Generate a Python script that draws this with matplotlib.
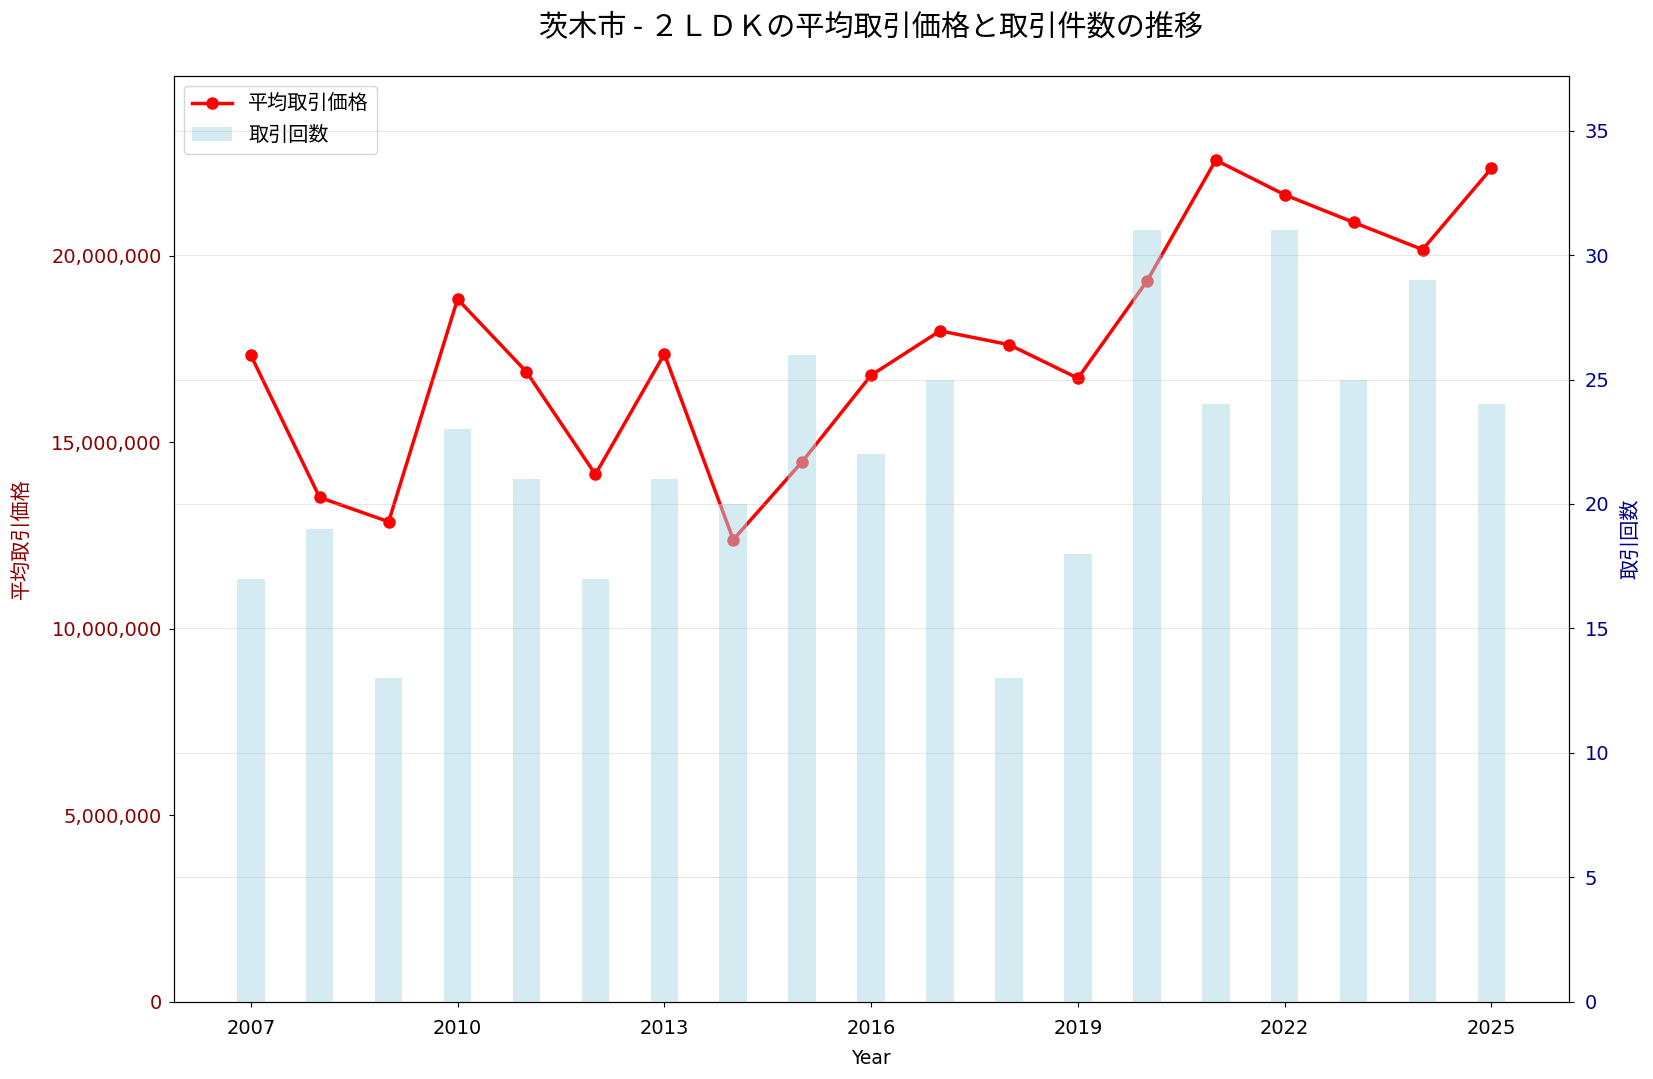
import matplotlib
matplotlib.use("Agg")
import matplotlib.pyplot as plt
from matplotlib.ticker import FuncFormatter

plt.rcParams['font.family'] = ['DejaVu Sans', 'Noto Sans CJK JP']

years = [2007, 2008, 2009, 2010, 2011, 2012, 2013, 2014, 2015, 2016,
         2017, 2018, 2019, 2020, 2021, 2022, 2023, 2024, 2025]
avg_price = [17340000, 13520000, 12870000, 18840000, 16890000, 14140000, 17370000,
             12390000, 14480000, 16800000, 17990000, 17620000, 16720000, 19320000,
             22570000, 21640000, 20900000, 20170000, 22350000]
counts = [17, 19, 13, 23, 21, 17, 21, 20, 26, 22, 25, 13, 18, 31, 24, 31, 25, 29, 24]

fig, ax1 = plt.subplots(figsize=(16.53, 10.79), dpi=100)
fig.subplots_adjust(left=0.105, right=0.949, top=0.9296, bottom=0.0718)

l1, = ax1.plot(years, avg_price, color="red", marker="o", linewidth=2.5,
               markersize=8, label="平均取引価格")
ax1.set_ylim(0, max(avg_price) * 1.1)
ax1.yaxis.set_major_formatter(FuncFormatter(lambda v, p: f"{int(v):,}"))
ax1.set_ylabel("平均取引価格", color="darkred", fontsize=14.5,
               family="Noto Sans CJK JP", labelpad=13)
ax1.tick_params(axis="y", labelcolor="darkred", labelsize=14, pad=5)
ax1.tick_params(axis="x", labelsize=14, pad=9)
ax1.set_xlabel("Year", fontsize=13.5, labelpad=8)
ax1.set_xticks(years[::3])

ax2 = ax1.twinx()
b2 = ax2.bar(years, counts, width=0.4, color="lightblue", alpha=0.5, label="取引回数")
ax2.set_ylim(0, max(counts) * 1.2)
ax2.set_ylabel("取引回数", color="darkblue", fontsize=14.5, family="Noto Sans CJK JP",
               labelpad=8)
ax2.tick_params(axis="y", labelcolor="darkblue", labelsize=14, pad=8)
ax2.grid(True, axis="y", alpha=0.3)

ax1.legend([l1, b2], ["平均取引価格", "取引回数"], loc="upper left",
           prop={"family": "Noto Sans CJK JP", "size": 14.5})
ax1.set_title("茨木市 - ２ＬＤＫの平均取引価格と取引件数の推移", fontsize=21, pad=29,
              family="Noto Sans CJK JP")

fig.savefig("out.png", dpi=100)
